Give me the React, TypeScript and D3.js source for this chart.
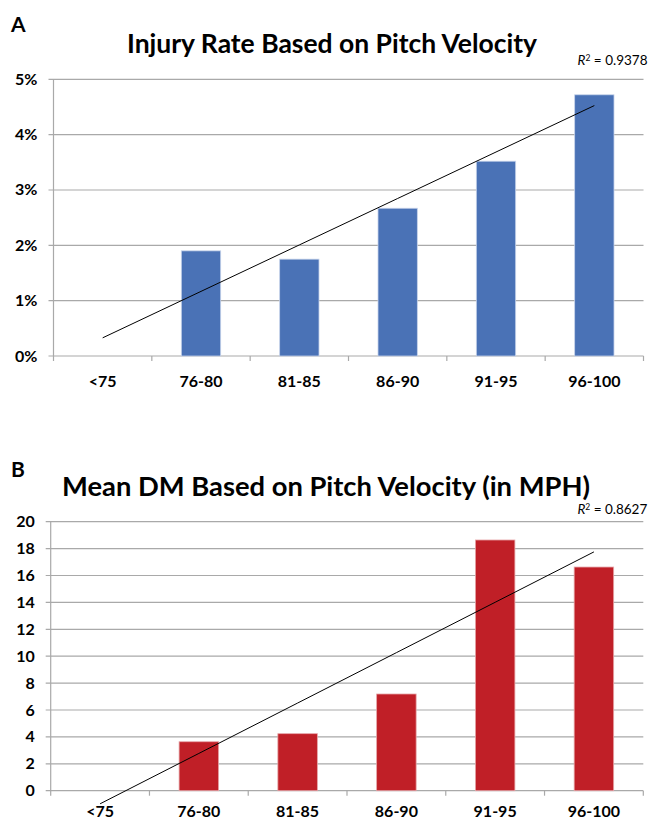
import { useEffect } from 'react';
import * as d3 from 'd3';

const categories = ['<75', '76-80', '81-85', '86-90', '91-95', '96-100'];
const injuryRate = [0, 1.9, 1.75, 2.67, 3.52, 4.72];
const meanDM = [0, 3.64, 4.24, 7.19, 18.64, 16.63];
const injuryTicks = [0, 1, 2, 3, 4, 5];
const dmTicks = [0, 2, 4, 6, 8, 10, 12, 14, 16, 18, 20];

const FONT = "Lato, 'Open Sans', sans-serif";

function fit(values) {
  const xs = values.map((_, i) => i + 1);
  const mx = d3.mean(xs);
  const my = d3.mean(values);
  const sxy = d3.sum(xs, (x, i) => (x - mx) * (values[i] - my));
  const sxx = d3.sum(xs, (x) => (x - mx) * (x - mx));
  const slope = sxy / sxx;
  return (x) => my + slope * (x - mx);
}

function BarPanel({ top, letter, title, titleX, titleY, titleSize, titleLen, values, ticks, yMax, fmt, x0, x1, y0, y1, labelDy, color, edge, r2, r2Y }) {
  const x = d3.scaleBand().domain(categories).range([x0, x1]).paddingInner(0.6).paddingOuter(0.3);
  const y = d3.scaleLinear().domain([0, yMax]).range([y1, y0]);
  const trend = fit(values);
  const line = d3.line().x((d) => x(d) + x.bandwidth() / 2).y((d, i) => y(trend(i + 1)));
  const bounds = d3.range(categories.length + 1).map((i) => x0 + ((x1 - x0) * i) / categories.length);

  return (
    <g>
      <text x={11} y={top} fontFamily={FONT} fontWeight="bold" fontSize={21}>{letter}</text>
      <text x={titleX} y={titleY} textAnchor="middle" fontFamily={FONT} fontWeight="bold" fontSize={titleSize}
        textLength={titleLen} lengthAdjust="spacingAndGlyphs">{title}</text>
      {ticks.map((t) => (
        <g key={t}>
          <line x1={x0 - 5} x2={x1} y1={y(t)} y2={y(t)} stroke="#a9a9a9" strokeWidth={1.2} />
          <text x={x0 - 16} y={y(t) + 5.5} textAnchor="end" fontFamily={FONT} fontWeight="bold" fontSize={16}>{fmt(t)}</text>
        </g>
      ))}
      <line x1={x0} x2={x0} y1={y0} y2={y1} stroke="#a9a9a9" strokeWidth={1.2} />
      {bounds.map((b, i) => (
        <line key={i} x1={b} x2={b} y1={y1} y2={y1 + 5} stroke="#a9a9a9" strokeWidth={1.2} />
      ))}
      {values.map((v, i) =>
        v > 0 ? (
          <rect key={i} x={x(categories[i])} y={y(v)} width={x.bandwidth()} height={y(0) - y(v)} fill={color} stroke={edge} strokeWidth={0.8} />
        ) : null
      )}
      <path d={line(categories)} fill="none" stroke="#000" strokeWidth={1} />
      {categories.map((c) => (
        <text key={c} x={x(c) + x.bandwidth() / 2} y={y1 + labelDy} textAnchor="middle" fontFamily={FONT} fontWeight="bold" fontSize={16}>{c}</text>
      ))}
      <text x={x1 + 4} y={r2Y} textAnchor="end" fontFamily={FONT} fontSize={13.5}>
        <tspan fontStyle="italic">R</tspan>
        <tspan dy={-4.5} fontSize={8.5}>2</tspan>
        <tspan dy={4.5}>{` = ${r2}`}</tspan>
      </text>
    </g>
  );
}

export default function App() {
  useEffect(() => {
    document.body.style.margin = '0';
  }, []);

  return (
    <svg width={652} height={822} style={{ display: 'block', background: '#fff' }}>
      <BarPanel
        top={32}
        letter="A"
        title="Injury Rate Based on Pitch Velocity"
        titleX={332}
        titleY={53}
        titleSize={27}
        titleLen={410}
        values={injuryRate}
        ticks={injuryTicks}
        yMax={5}
        fmt={(t) => `${t}%`}
        x0={53.5}
        x1={643.5}
        y0={79.3}
        y1={356}
        labelDy={31}
        color="#4a72b6"
        edge="#c6d3ea"
        r2="0.9378"
        r2Y={65}
      />
      <BarPanel
        top={477}
        letter="B"
        title="Mean DM Based on Pitch Velocity (in MPH)"
        titleX={326}
        titleY={496}
        titleSize={26}
        titleLen={528}
        values={meanDM}
        ticks={dmTicks}
        yMax={20}
        fmt={(t) => `${t}`}
        x0={50.7}
        x1={643.3}
        y0={521.7}
        y1={790.7}
        labelDy={26}
        color="#c01f27"
        edge="#e6a6a9"
        r2="0.8627"
        r2Y={514}
      />
    </svg>
  );
}
